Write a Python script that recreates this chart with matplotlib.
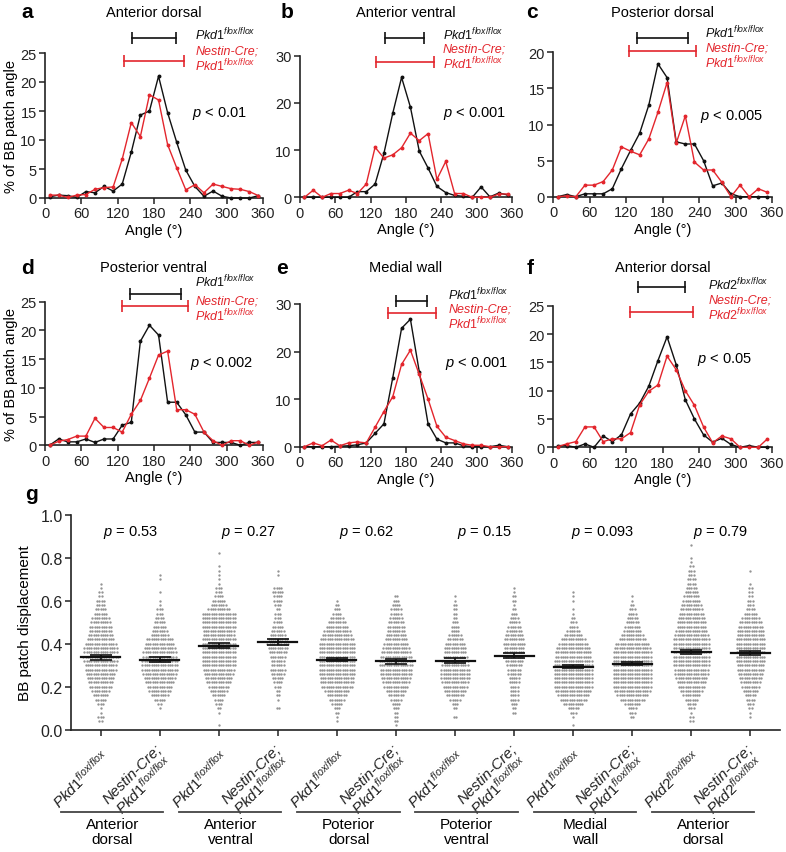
import matplotlib
matplotlib.use('Agg')
import matplotlib.pyplot as plt
import numpy as np
from matplotlib.transforms import blended_transform_factory, ScaledTranslation

plt.rcParams['font.family'] = ['Liberation Sans', 'DejaVu Sans']
plt.rcParams['mathtext.fontset'] = 'custom'
plt.rcParams['mathtext.rm'] = 'Liberation Sans'
plt.rcParams['mathtext.it'] = 'Liberation Sans:italic'
plt.rcParams['mathtext.bf'] = 'Liberation Sans:bold'

RED = '#e3262d'
GREY = '#949494'

# --- angle histograms, % of BB patch angle per 15 deg bin ---
angles = [7.5, 22.5, 37.5, 52.5, 67.5, 82.5, 97.5, 112.5, 127.5, 142.5, 157.5, 172.5,
          187.5, 202.5, 217.5, 232.5, 247.5, 262.5, 277.5, 292.5, 307.5, 322.5, 337.5, 352.5]

ad_ctl = [0.2, 0.5, 0.4, 0.1, 1.1, 0.9, 2.0, 1.2, 2.4, 7.9, 14.3, 15.0,
          21.0, 14.7, 9.6, 4.8, 2.0, 0.3, 1.2, 0.3, 0, 0, 0, 0.4]
ad_mut = [0.5, 0.5, 0.1, 0.5, 0.6, 1.5, 1.8, 1.9, 6.7, 13.0, 10.6, 17.8,
          16.9, 9.2, 5.2, 1.4, 2.3, 0.9, 2.4, 2.0, 1.6, 1.5, 1.1, 0.4]
av_ctl = [0, 0, 0, 0, 0, 0, 1.2, 1.2, 2.8, 9.3, 17.8, 25.4,
          19.1, 9.8, 6.2, 2.3, 1.0, 0.4, 0.2, 0, 2.2, 0.1, 0.9, 0.5]
av_mut = [0, 1.5, 0, 0.8, 0.8, 1.5, 0.8, 2.8, 10.6, 8.3, 9.0, 10.5,
          13.6, 12.0, 13.5, 3.8, 7.6, 0.8, 0.8, 0, 0, 0, 0.7, 0.7]
pd_ctl = [0, 0.3, 0, 0.4, 0.4, 0.4, 1.1, 3.9, 6.4, 8.8, 12.7, 18.4,
          16.5, 7.6, 7.3, 7.3, 5.0, 1.5, 1.9, 0.4, 0, 0, 0, 0]
pd_mut = [0, 0.1, 0, 1.6, 1.6, 2.1, 3.7, 6.9, 6.3, 5.8, 8.0, 11.7,
          15.8, 7.4, 11.2, 4.8, 3.7, 3.7, 2.0, 0, 1.6, 0, 1.1, 0.6]
pv_ctl = [0, 1.1, 0.6, 0.6, 1.1, 0.5, 1.1, 1.1, 3.5, 4.0, 18.1, 20.9,
          19.2, 7.5, 7.5, 5.3, 2.3, 2.3, 0.5, 0.5, 0.5, 0, 0.5, 0.5]
pv_mut = [0, 0.7, 1.0, 1.6, 1.6, 4.7, 3.1, 3.1, 2.3, 5.4, 7.8, 11.7,
          15.7, 16.4, 6.2, 6.2, 5.4, 2.3, 0.8, 0, 0.8, 0.8, 0, 0.6]
mw_ctl = [0, 0, 0, 0, 0.1, 0.2, 0.4, 0.8, 2.8, 4.8, 14.5, 24.9,
          26.8, 15.8, 4.8, 1.6, 0.8, 0.8, 0.2, 0, 0, 0, 0.3, 0]
mw_mut = [0, 0.8, 0.2, 1.4, 0.2, 0.8, 1.0, 0.8, 4.1, 7.4, 10.5, 17.3,
          20.3, 15.2, 10.0, 4.3, 2.0, 1.3, 0.6, 0.3, 0.3, 0, 0, 0]
af_ctl = [0.3, 0.3, 0, 0.6, 0, 2.0, 1.0, 2.2, 5.9, 7.8, 10.8, 15.3,
          19.5, 14.6, 8.4, 5.0, 2.2, 0.9, 1.6, 0.5, 0, 0.3, 0, 0]
af_mut = [0.1, 0.6, 1.0, 3.6, 3.6, 1.0, 1.5, 1.5, 2.6, 7.5, 9.9, 11.0,
          16.1, 13.7, 10.0, 7.4, 3.6, 0.8, 2.0, 1.5, 0, 0, 0, 1.5]

# mean +/- range bars above each histogram (deg)
bar_ctl = [(143.6, 217), (144.6, 211), (138.5, 222.6), (140.3, 223.9), (163.3, 215.4), (139, 216.6)]
bar_mut = [(130, 229), (128.7, 228), (125.3, 234.7), (127, 236.5), (149, 230.7), (126.4, 229.8)]

titles = ['Anterior dorsal', 'Anterior ventral', 'Posterior dorsal',
          'Posterior ventral', 'Medial wall', 'Anterior dorsal']
letters = ['a', 'b', 'c', 'd', 'e', 'f']
genes = ['Pkd1', 'Pkd1', 'Pkd1', 'Pkd1', 'Pkd1', 'Pkd2']
pvals = ['< 0.01', '< 0.001', '< 0.005', '< 0.002', '< 0.001', '< 0.05']
ymaxs = [25, 30, 20, 25, 30, 25]
ysteps = [5, 10, 5, 5, 10, 5]

# --- BB patch displacement: dot counts per 0.02 row, starting at 0.00 ---
row_step = 0.02
g_counts = [
    [0, 0, 2, 3, 1, 1, 3, 5, 7, 8, 10, 11, 12, 13, 14, 14, 15, 16, 15, 15,
     14, 12, 11, 10, 10, 9, 8, 6, 5, 4, 4, 2, 2, 1, 1],
    [0, 0, 0, 0, 0, 1, 2, 5, 8, 10, 11, 13, 14, 15, 16, 16, 16, 15, 15, 14,
     13, 12, 8, 7, 6, 5, 4, 3, 3, 1, 1, 0, 1, 0, 0, 1, 1],
    [0, 1, 0, 0, 1, 2, 3, 4, 6, 8, 9, 11, 12, 13, 14, 15, 15, 15, 15, 15,
     15, 15, 14, 14, 15, 15, 15, 15, 10, 7, 6, 4, 3, 3, 1, 1, 1, 1, 1, 0, 0, 1],
    [0, 0, 0, 0, 0, 2, 0, 1, 2, 2, 3, 4, 5, 6, 7, 6, 6, 7, 8, 9,
     10, 9, 7, 6, 5, 4, 3, 3, 2, 3, 4, 4, 5, 4, 0, 0, 1, 1],
    [0, 0, 1, 1, 2, 3, 5, 7, 9, 11, 14, 15, 15, 16, 16, 16, 16, 16, 16, 16,
     16, 15, 13, 12, 10, 8, 6, 4, 3, 2, 1],
    [0, 1, 2, 2, 2, 3, 4, 5, 7, 9, 11, 12, 13, 14, 14, 15, 15, 14, 13, 12,
     11, 10, 9, 8, 8, 7, 6, 5, 5, 4, 3, 2],
    [0, 0, 0, 2, 0, 2, 3, 5, 8, 10, 11, 12, 13, 13, 13, 12, 12, 11, 10, 10,
     9, 7, 6, 4, 4, 3, 2, 2, 2, 2, 1, 1],
    [0, 0, 0, 0, 2, 2, 3, 4, 4, 4, 4, 5, 5, 6, 6, 7, 8, 8, 9, 9,
     10, 9, 8, 7, 6, 5, 4, 3, 2, 1, 2, 2, 1, 1],
    [0, 1, 0, 1, 3, 5, 9, 12, 14, 16, 17, 17, 17, 17, 17, 17, 17, 16, 16, 15,
     13, 11, 8, 6, 4, 3, 2, 1, 1, 0, 1, 1, 1],
    [0, 0, 0, 2, 3, 4, 7, 11, 14, 16, 17, 17, 17, 17, 17, 17, 17, 17, 17, 16,
     15, 12, 10, 8, 7, 6, 5, 4, 3, 2, 1, 1],
    [0, 0, 2, 2, 1, 3, 4, 6, 8, 10, 12, 13, 14, 15, 15, 16, 16, 16, 16, 16,
     16, 16, 15, 14, 13, 13, 12, 11, 10, 9, 8, 7, 6, 5, 4, 4, 3, 3, 2, 1, 1, 0, 0, 1],
    [0, 0, 0, 1, 1, 2, 3, 4, 5, 7, 8, 9, 10, 11, 12, 12, 13, 13, 13, 13,
     13, 13, 12, 12, 11, 10, 8, 6, 4, 3, 3, 2, 2, 2, 1, 0, 0, 1],
]
g_means = [0.337, 0.326, 0.391, 0.406, 0.326, 0.318, 0.321, 0.344, 0.293, 0.307, 0.363, 0.357]
g_sems = [0.011, 0.010, 0.011, 0.014, 0.008, 0.011, 0.011, 0.012, 0.007, 0.008, 0.010, 0.011]
g_genes = ['Pkd1', 'Pkd1', 'Pkd1', 'Pkd1', 'Pkd1', 'Pkd2']
g_regions = ['Anterior\ndorsal', 'Anterior\nventral', 'Poterior\ndorsal',
             'Poterior\nventral', 'Medial\nwall', 'Anterior\ndorsal']
g_pvals = ['0.53', '0.27', '0.62', '0.15', '0.093', '0.79']

W, H = 786, 853
fig = plt.figure(figsize=(W / 100, H / 100), dpi=100)


def px_axes(x0, y0, x1, y1):
    return fig.add_axes([x0 / W, 1 - y1 / H, (x1 - x0) / W, (y1 - y0) / H])


def flox(gene):
    return r'$\mathit{%s}^{\mathit{flox/flox}}$' % gene


def style_axes(ax, fs):
    for s in ['top', 'right']:
        ax.spines[s].set_visible(False)
    for s in ['left', 'bottom']:
        ax.spines[s].set_linewidth(1.2)
        ax.spines[s].set_color('#222222')
    ax.tick_params(labelsize=fs, length=4, width=1.1, pad=2, colors='#222222')


rects = [(45, 54, 263, 199), (300, 56.7, 512, 198.3), (553, 53.3, 772, 197.7),
         (45, 302.7, 263, 446.3), (300, 305, 512, 447.7), (553, 306.7, 772, 448.3)]
title_y = [13, 13, 13, 268, 268, 268]
letter_x = [27, 287, 532, 28, 282, 530]
bar_y = [(1.101, 0.943), (1.123, 0.958), (1.097, 1.011), (1.054, 0.972), (1.023, 0.937), (1.13, 0.953)]
leg_y = [(1.131, 0.959), (1.153, 0.994), (1.141, 0.976), (1.146, 0.949), (1.07, 0.912), (1.153, 0.984)]
leg_x = [0.69, 0.675, 0.695, 0.69, 0.70, 0.71]
p_pos = [(0.674, 0.593), (0.673, 0.60), (0.671, 0.561), (0.665, 0.578), (0.684, 0.591), (0.656, 0.624)]

hist = [(ad_ctl, ad_mut), (av_ctl, av_mut), (pd_ctl, pd_mut),
        (pv_ctl, pv_mut), (mw_ctl, mw_mut), (af_ctl, af_mut)]

for i, (ctl, mut) in enumerate(hist):
    x0, y0, x1, y1 = rects[i]
    ax = px_axes(x0, y0, x1, y1)
    ax.plot(angles, ctl, '-o', color='#111111', lw=1.0, ms=1.8, clip_on=False, zorder=3)
    ax.plot(angles, mut, '-o', color=RED, lw=1.0, ms=1.8, clip_on=False, zorder=4)
    ax.set_xlim(0, 360)
    ax.set_ylim(0, ymaxs[i])
    ax.set_xticks(range(0, 361, 60))
    ax.set_yticks(range(0, ymaxs[i] + 1, ysteps[i]))
    style_axes(ax, 10.5)
    ax.set_xlabel('Angle (\u00b0)', fontsize=10.5, labelpad=2)
    if i % 3 == 0:
        ax.set_ylabel('% of BB patch angle', fontsize=10.5, labelpad=2)

    fig.text((x0 + x1) / 2 / W, 1 - title_y[i] / H, titles[i], fontsize=10.5,
             ha='center', va='center')
    fig.text(letter_x[i] / W, 1 - title_y[i] / H, letters[i], fontsize=15,
             fontweight='bold', ha='center', va='center')

    tr = blended_transform_factory(ax.transData, ax.transAxes)
    for (lo, hi), yb, col in [(bar_ctl[i], bar_y[i][0], '#111111'), (bar_mut[i], bar_y[i][1], RED)]:
        ax.plot([lo, hi], [yb, yb], '-|', color=col, lw=1.2, ms=8, mew=1.2,
                transform=tr, clip_on=False)

    ax.text(leg_x[i], leg_y[i][0], flox(genes[i]), transform=ax.transAxes,
            fontsize=9, color='#111111', ha='left', va='center')
    ax.text(leg_x[i], leg_y[i][1], 'Nestin-Cre;\n' + flox(genes[i]), transform=ax.transAxes,
            fontsize=9, color=RED, style='italic', ha='left', va='center', linespacing=1.0)
    ax.text(p_pos[i][0], p_pos[i][1], r'$\mathit{p}$ ' + pvals[i], transform=ax.transAxes,
            fontsize=10.5, ha='left', va='center')

# --- panel g ---
axg = px_axes(71, 515.7, 780, 730.7)
dx = 0.039
for k, counts in enumerate(g_counts):
    xs, ys = [], []
    for j, n in enumerate(counts):
        if n == 0:
            continue
        offs = (np.arange(n) - (n - 1) / 2) * dx
        xs.extend(k + 1 + offs)
        ys.extend([j * row_step] * n)
    axg.plot(xs, ys, 'o', ms=1.7, color=GREY, mec='none', zorder=2)
    axg.plot([k + 1 - 0.33, k + 1 + 0.33], [g_means[k], g_means[k]], color='#111111', lw=1.6, zorder=4)
    axg.errorbar(k + 1, g_means[k], yerr=g_sems[k], color='#111111', lw=1.2,
                 capsize=8, capthick=1.2, zorder=4)

axg.set_xlim(0.5, 12.5)
axg.set_ylim(0, 1.0)
axg.set_yticks([0.0, 0.2, 0.4, 0.6, 0.8, 1.0])
axg.set_yticklabels(['0.0', '0.2', '0.4', '0.6', '0.8', '1.0'])
style_axes(axg, 11.5)
axg.set_ylabel('BB patch displacement', fontsize=11, labelpad=6)

tick_labels = []
for gname in g_genes:
    tick_labels.append(flox(gname))
    tick_labels.append('Nestin-Cre;\n' + flox(gname))
axg.set_xticks(range(1, 13))
axg.set_xticklabels(tick_labels, rotation=45, ha='right', va='center',
                    rotation_mode='anchor', fontsize=11, style='italic',
                    linespacing=1.0, multialignment='center')
off = ScaledTranslation(7 / 100, -14 / 100, fig.dpi_scale_trans)
for lab in axg.get_xticklabels():
    lab.set_transform(lab.get_transform() + off)

trg = blended_transform_factory(axg.transData, axg.transAxes)
for k in range(6):
    a = 2 * k + 1
    axg.plot([a - 0.67, a + 1.06], [-0.384, -0.384], color='#444444', lw=1.3,
             transform=trg, clip_on=False)
    axg.text(a + 0.2, -0.405, g_regions[k], transform=trg, ha='center', va='top',
             fontsize=11, linespacing=1.15)
    axg.text(a + 0.5, 0.92, r'$\mathit{p}$ = ' + g_pvals[k], ha='center', va='center',
             fontsize=10.5)

fig.text(32 / W, 1 - 495 / H, 'g', fontsize=15, fontweight='bold', ha='center', va='center')

fig.savefig('out.png', dpi=100)
